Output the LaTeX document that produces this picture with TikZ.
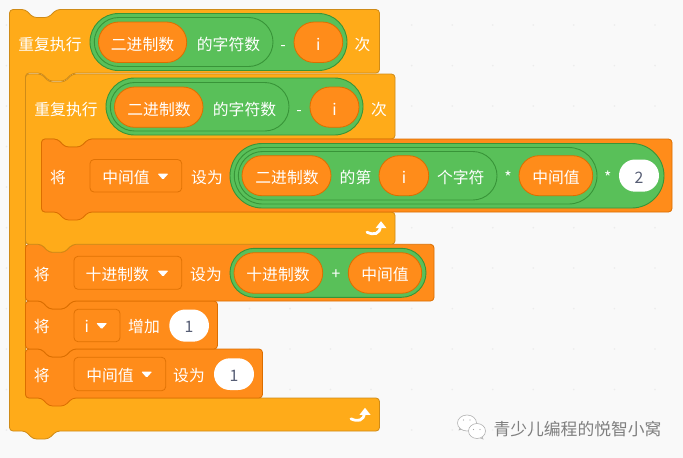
\documentclass[tikz,border=0pt]{standalone}
\usepackage{fontspec}
\setmainfont{Noto Sans CJK SC}
\usetikzlibrary{calc}
\definecolor{bgc}{HTML}{F9F9F9}
\definecolor{dotc}{HTML}{ECECEC}
\definecolor{ctlf}{HTML}{FFAB19}
\definecolor{ctld}{HTML}{CF8B17}
\definecolor{varf}{HTML}{FF8C1A}
\definecolor{vard}{HTML}{DB6E00}
\definecolor{opf}{HTML}{59C059}
\definecolor{opd}{HTML}{389438}
\definecolor{numc}{HTML}{575E75}
\definecolor{markc}{HTML}{7F7F7F}
\tikzset{
  x=1pt,y=-1pt,
  ctlblock/.style={fill=ctlf,draw=ctld,line width=0.8pt,rounded corners=3.5pt,line join=round},
  varblock/.style={fill=varf,draw=vard,line width=0.8pt,rounded corners=3.5pt,line join=round},
  oppill/.style={fill=opf,draw=opd,line width=0.9pt},
  varpill/.style={fill=varf,draw=vard,line width=0.8pt},
  numpill/.style={fill=white,draw=none},
  drop/.style={fill=varf,draw=vard!85!varf,line width=0.8pt,rounded corners=4pt},
  lbl/.style={text=white,inner sep=0pt,text height=14pt,text depth=0pt,font=\fontsize{15.8}{18}\selectfont},
  numlbl/.style={text=numc,inner sep=0pt,text height=14pt,text depth=0pt,font=\fontsize{15.8}{18}\selectfont},
  marklbl/.style={text=markc,inner sep=0pt,text height=14pt,text depth=0pt,font=\fontsize{16.8}{20}\selectfont},
  wechat/.style={fill=white,draw=markc!60,line width=0.6pt}
}
% plain stack block: left, top, right, bottom
\newcommand\sblock[5][varblock]{%
  \pgfmathsetmacro\na{#2+16}\pgfmathsetmacro\nb{#2+23.5}\pgfmathsetmacro\nc{#2+39}\pgfmathsetmacro\nd{#2+47}%
  \pgfmathsetmacro\nt{#3+8}\pgfmathsetmacro\nu{#5+8}%
  \draw[#1] (#2,#3) -- (\na,#3) -- (\nb,\nt) -- (\nc,\nt) -- (\nd,#3) -- (#4,#3) -- (#4,#5)
    -- (\nd,#5) -- (\nc,\nu) -- (\nb,\nu) -- (\na,#5) -- (#2,#5) -- cycle;}
% C block: left, top, right, arm bottom, lower arm top, bottom
\newcommand\cblock[6]{%
  \pgfmathsetmacro\na{#1+16}\pgfmathsetmacro\nb{#1+23.5}\pgfmathsetmacro\nc{#1+39}\pgfmathsetmacro\nd{#1+47}%
  \pgfmathsetmacro\nt{#2+8}\pgfmathsetmacro\nu{#6+8}%
  \pgfmathsetmacro\ma{\na+16}\pgfmathsetmacro\mb{\na+23.5}\pgfmathsetmacro\mc{\na+39}\pgfmathsetmacro\md{\na+47}\pgfmathsetmacro\mu{#4+8}%
  \draw[ctlblock] (#1,#2) -- (\na,#2) -- (\nb,\nt) -- (\nc,\nt) -- (\nd,#2) -- (#3,#2) -- (#3,#4)
    -- (\md,#4) -- (\mc,\mu) -- (\mb,\mu) -- (\ma,#4)
    -- (\na,#4) -- (\na,#5) -- (#3,#5) -- (#3,#6)
    -- (\nd,#6) -- (\nc,\nu) -- (\nb,\nu) -- (\na,#6) -- (#1,#6) -- cycle;}
% pill: style, x0, y0, x1, y1
\newcommand\pillshape[5]{%
  \pgfmathsetmacro\pr{(#5-#3)/2-0.02}%
  \draw[#1,rounded corners=\pr pt] (#2,#3) rectangle (#4,#5);}
% dropdown triangle
\newcommand\droparrow[2]{%
  \fill[white,rounded corners=1pt] (#1-5.5,#2-3) -- (#1+5.5,#2-3) -- (#1,#2+3.2) -- cycle;}
% loop arrow given its tip
\newcommand\looparrow[2]{%
  \begin{scope}[shift={(#1,#2)}]
  \draw[white,line width=2.8pt,line cap=round] (-14,10.5) .. controls (-7.5,13.5) and (-1,13) .. (-0.5,4);
  \fill[white] (0,-0.5) -- (5.5,6.5) -- (-5.5,6.5) -- cycle;
  \end{scope}}
\begin{document}
\begin{tikzpicture}
\useasboundingbox (0,0) rectangle (683,458);
\fill[bgc] (0,0) rectangle (683,458);
% workspace grid
\foreach \gx in {6.4,47,87.5,128,168.3,209,249.5,290,330.5,371,411.7,452.3,492.8,533.3,573.8,614.4,655}
  \foreach \gy in {25,65.6,106,146.5,187,227.7,268,308.6,349,389.5,430}
    \fill[dotc] (\gx,\gy) circle (0.9);
% blocks
\cblock{9.5}{9.5}{379.5}{73}{398}{431}
\sblock{25.5}{349}{262.5}{398}
\sblock{25.5}{301}{217.5}{349}
\sblock{25.5}{244.3}{434}{301}
\cblock{25.5}{74}{395}{139}{212}{244.3}
\sblock{41.5}{139}{672}{212}
% row 1
\pillshape{oppill}{90}{13.5}{347}{70.5}
\pillshape{oppill}{94.3}{17.5}{273}{66.5}
\pillshape{varpill}{98.5}{22}{186.7}{62.5}
\pillshape{varpill}{294}{22}{342.7}{62.5}
\node[lbl] (r1a) at (50,43) {重复执行};
\node[lbl] (r1b) at (142.5,43) {二进制数};
\node[lbl] (r1c) at (228.5,43) {的字符数};
\node[lbl] (r1d) at (283,43) {-};
\node[lbl] (r1e) at (318.3,43) {i};
\node[lbl] (r1f) at (362.5,43) {次};
\looparrow{365}{408.3}
% row 2
\pillshape{oppill}{106}{78}{363}{135}
\pillshape{oppill}{110.3}{82.5}{289}{131}
\pillshape{varpill}{114.5}{87}{203}{127.3}
\pillshape{varpill}{310}{87}{359}{127.3}
\node[lbl] (r2a) at (66,108) {重复执行};
\node[lbl] (r2b) at (159,108) {二进制数};
\node[lbl] (r2c) at (244.5,108) {的字符数};
\node[lbl] (r2d) at (299,108) {-};
\node[lbl] (r2e) at (334.5,108) {i};
\node[lbl] (r2f) at (379,108) {次};
\looparrow{381}{221.7}
% row 3
\draw[drop] (90,159.5) rectangle (181.7,192);
\pillshape{oppill}{230}{143.5}{664}{208}
\pillshape{oppill}{234.3}{147.5}{597}{204}
\pillshape{oppill}{238.3}{151.5}{497}{200}
\pillshape{varpill}{242}{155.7}{331}{195.7}
\pillshape{varpill}{379}{155.7}{428.7}{195.7}
\pillshape{varpill}{519}{155.7}{592.7}{195.7}
\pillshape{numpill}{619}{159.5}{659}{191.7}
\node[lbl] (r3a) at (58,176) {将};
\node[lbl] (r3b) at (126,176) {中间值};
\droparrow{163}{176.5}
\node[lbl] (r3c) at (207,176) {设为};
\node[lbl] (r3d) at (287,176) {二进制数};
\node[lbl] (r3e) at (355.5,176) {的第};
\node[lbl] (r3f) at (404,176) {i};
\node[lbl] (r3g) at (460.7,176) {个字符};
\node[lbl] (r3h) at (508,176) {*};
\node[lbl] (r3i) at (556,176) {中间值};
\node[lbl] (r3j) at (607.7,176) {*};
\node[numlbl] (r3k) at (639,176) {2};
% row 4
\draw[drop] (74,256.3) rectangle (181.7,289.3);
\pillshape{oppill}{230}{248.3}{426}{297.3}
\pillshape{varpill}{234}{252.7}{322.7}{293.3}
\pillshape{varpill}{348.3}{252.7}{421.7}{293.3}
\node[lbl] (r4a) at (41.7,273) {将};
\node[lbl] (r4b) at (117.3,273) {十进制数};
\droparrow{163}{273.5}
\node[lbl] (r4c) at (206,273) {设为};
\node[lbl] (r4d) at (278,273) {十进制数};
\node[lbl] (r4e) at (336,272.5) {+};
\node[lbl] (r4f) at (385,273) {中间值};
% row 5
\draw[drop] (74,309.3) rectangle (120,341.7);
\pillshape{numpill}{169.3}{309.5}{209}{341.7}
\node[lbl] (r5a) at (41.7,325.5) {将};
\node[lbl] (r5b) at (86.7,325.5) {i};
\droparrow{101.7}{326}
\node[lbl] (r5c) at (144,325.5) {增加};
\node[numlbl] (r5d) at (189,325.5) {1};
% row 6
\draw[drop] (74,357.3) rectangle (165.7,390.7);
\pillshape{numpill}{214}{358.3}{254}{390}
\node[lbl] (r6a) at (41.7,374) {将};
\node[lbl] (r6b) at (110,374) {中间值};
\droparrow{146.7}{374.5}
\node[lbl] (r6c) at (189,374) {设为};
\node[numlbl] (r6d) at (234,374) {1};
% watermark
\draw[wechat] (459,430) -- (461.5,425) -- (464,428.5) -- cycle;
\draw[wechat] (467,423) ellipse (9.5 and 8);
\draw[wechat] (483,439) -- (481,434) -- (478,437) -- cycle;
\draw[wechat] (477,431) ellipse (8.5 and 7.5);
\foreach \ex/\ey in {463.5/420,470/420,473.5/429.5,480/429.5}
  \fill[markc!70] (\ex,\ey) circle (0.7);
\node[marklbl] (wm) at (577.5,428) {青少儿编程的悦智小窝};
\end{tikzpicture}
\end{document}
